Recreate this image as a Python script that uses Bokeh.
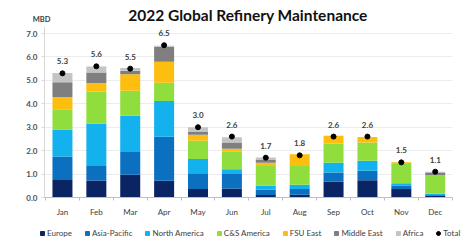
from bokeh.plotting import figure
from bokeh.layouts import column
from bokeh.models import (ColumnDataSource, Legend, LegendItem, FixedTicker,
                          NumeralTickFormatter, Range1d)
from bokeh.core.properties import value
from bokeh.embed import file_html
from bokeh.resources import INLINE

title_text = "2022 Global Refinery Maintenance"
unit_text = "MBD"
months = ["Jan", "Feb", "Mar", "Apr", "May", "Jun", "Jul", "Aug", "Sep", "Oct", "Nov", "Dec"]
europe        = [0.75, 0.73, 0.97, 0.71, 0.36, 0.38, 0.11, 0.12, 0.67, 0.74, 0.36, 0.08]
asia_pacific  = [1.00, 0.61, 0.97, 1.88, 0.68, 0.62, 0.22, 0.24, 0.40, 0.40, 0.15, 0.03]
north_america = [1.15, 1.82, 1.55, 1.53, 0.60, 0.21, 0.17, 0.18, 0.41, 0.43, 0.10, 0.05]
cs_america    = [0.87, 1.36, 1.07, 0.78, 0.78, 0.76, 0.85, 0.81, 0.83, 0.78, 0.82, 0.79]
fsu_east      = [0.52, 0.37, 0.70, 0.89, 0.26, 0.11, 0.13, 0.50, 0.33, 0.19, 0.07, 0.00]
middle_east   = [0.63, 0.45, 0.15, 0.65, 0.12, 0.27, 0.12, 0.00, 0.00, 0.02, 0.00, 0.12]
africa        = [0.40, 0.25, 0.12, 0.04, 0.20, 0.22, 0.11, 0.00, 0.00, 0.00, 0.00, 0.03]
totals        = [5.3, 5.6, 5.5, 6.5, 3.0, 2.6, 1.7, 1.8, 2.6, 2.6, 1.5, 1.1]

series = ["Europe", "Asia-Pacific", "North America", "C&S America", "FSU East", "Middle East", "Africa"]
colors = ["#0A2464", "#0B70C0", "#13B2EE", "#8FDE3E", "#FDBE10", "#7F7F7F", "#C4C4C4"]
y_ticks = [0, 1, 2, 3, 4, 5, 6, 7]

W = 467
H_TOP, H_MAIN, H_LEG = 26, 194, 21
FRAME_L, FRAME_R = 44, 452


def bare(fig):
    fig.axis.visible = False
    fig.grid.grid_line_color = None
    fig.outline_line_color = None
    return fig


def strip(h, xr, yr):
    f = bare(figure(width=W, height=h, output_backend="svg", toolbar_location=None,
                    x_range=xr, y_range=yr, min_border=0, min_border_left=0,
                    min_border_right=0, min_border_top=0, min_border_bottom=0))
    return f


probe = figure(width=10, height=10)
can_unalign = "frame_align" in probe.properties()

# ---------- header (title + unit) ----------
if can_unalign:
    top = strip(H_TOP, Range1d(0, W), Range1d(0, H_TOP))
    top.frame_align = False
    mbd_x = 41
else:
    top = strip(H_TOP, Range1d(FRAME_L, FRAME_R), Range1d(0, H_TOP))
    mbd_x = 54
top.text(x=[247.5], y=[11.5], text=[title_text], text_align="center", text_baseline="middle",
         text_font=value("Lato"), text_font_size="15.5px", text_font_style="bold",
         text_color="#111111")
top.text(x=[mbd_x], y=[7.5], text=[unit_text], text_align="center", text_baseline="middle",
         text_font=value("Lato"), text_font_size="7.5px", text_font_style="bold",
         text_color="#404040")

# ---------- main chart ----------
x = list(range(len(months)))
src = ColumnDataSource(dict(
    x=x, Europe=europe, **{"Asia-Pacific": asia_pacific, "North America": north_america,
                            "C&S America": cs_america, "FSU East": fsu_east,
                            "Middle East": middle_east, "Africa": africa},
    total=totals, total_lbl=[f"{t:.1f}" for t in totals]))

p = figure(width=W, height=H_MAIN, output_backend="svg", toolbar_location=None,
           x_range=Range1d(-0.53, 11.51), y_range=Range1d(0, 7.3),
           min_border_left=FRAME_L, min_border_right=W - FRAME_R,
           min_border_top=0, min_border_bottom=23)
p.outline_line_color = None
if can_unalign:
    p.frame_align = False

p.vbar_stack(series, x="x", width=0.59, color=colors, source=src, line_color=None)
p.scatter(x="x", y="total", size=5, color="black", source=src)
p.text(x="x", y="total", text="total_lbl", source=src, y_offset=-12,
       text_align="center", text_baseline="middle", text_font=value("Lato"),
       text_font_size="8px", text_font_style="bold", text_color="#404040")

p.xgrid.grid_line_color = None
p.ygrid.grid_line_color = "#ececec"
p.ygrid.ticker = FixedTicker(ticks=y_ticks)
p.yaxis.ticker = FixedTicker(ticks=y_ticks)
p.yaxis.formatter = NumeralTickFormatter(format="0.0")
p.yaxis.axis_line_color = "#d9d9d9"
p.yaxis.major_tick_line_color = "#d9d9d9"
p.yaxis.major_tick_out = 3
p.yaxis.major_tick_in = 0
p.yaxis.minor_tick_line_color = None
p.yaxis.major_label_standoff = 4
p.yaxis.major_label_text_font = "Lato"
p.yaxis.major_label_text_font_size = "8px"
p.yaxis.major_label_text_font_style = "bold"
p.yaxis.major_label_text_color = "#505050"

p.xaxis.ticker = FixedTicker(ticks=x, minor_ticks=[i + 0.5 for i in range(-1, len(months))])
p.xaxis.major_label_overrides = {i: m for i, m in enumerate(months)}
p.xaxis.axis_line_color = "#bfbfbf"
p.xaxis.major_tick_line_color = None
p.xaxis.minor_tick_line_color = "#bfbfbf"
p.xaxis.minor_tick_out = 3
p.xaxis.minor_tick_in = 0
p.xaxis.major_label_standoff = 3
p.xaxis.major_label_text_font = "Lato"
p.xaxis.major_label_text_font_size = "8px"
p.xaxis.major_label_text_color = "#404040"

# ---------- legend strip ----------
if can_unalign:
    leg = strip(H_LEG, Range1d(0, W), Range1d(0, H_LEG))
    leg.frame_align = False
    leg_x = 37
else:
    leg = strip(H_LEG, Range1d(FRAME_L, FRAME_R), Range1d(0, H_LEG))
    leg_x = 0
items = []
for name, c in zip(series, colors):
    r = leg.scatter(x=[-5000], y=[-5000], marker="square", color=c)
    items.append(LegendItem(label=name, renderers=[r]))
rt = leg.scatter(x=[-5000], y=[-5000], marker="circle", color="black")
items.append(LegendItem(label="Total", renderers=[rt]))
legend = Legend(items=items, orientation="horizontal", location=(leg_x, 3),
                glyph_width=10, glyph_height=10, label_standoff=0,
                spacing=10 if can_unalign else 8,
                label_height=10, padding=0, margin=0,
                label_text_font="Lato", label_text_font_size="8px",
                label_text_color="#404040", border_line_color=None,
                background_fill_alpha=0)
leg.add_layout(legend)

layout = column(top, p, leg, spacing=0)
open("out.html", "w").write(file_html(layout, INLINE))
